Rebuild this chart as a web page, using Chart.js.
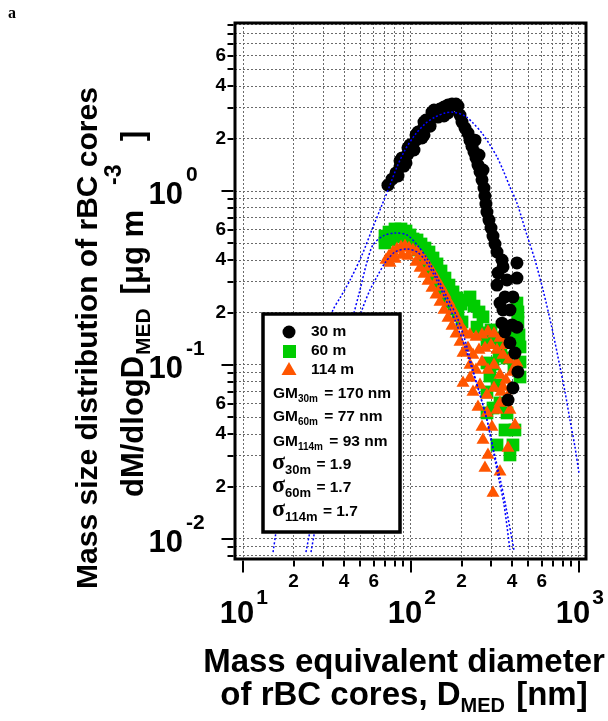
<!DOCTYPE html>
<html>
<head>
<meta charset="utf-8">
<script src="https://cdn.jsdelivr.net/npm/chart.js@4.4.0/dist/chart.umd.min.js"></script>
<style>
  html, body { margin: 0; padding: 0; background: #fff; }
  canvas { display: block; }
</style>
</head>
<body>
<canvas id="myChart" width="608" height="721"></canvas>
<script>
// 30 m (black circles)
const d30x = [72.9, 77.1, 81.4, 86.0, 90.8, 95.9, 101.4, 107.1, 113.2, 119.5, 126.2, 133.4, 140.9, 148.8, 157.2, 166.0, 175.4, 185.3, 190.4,
  157.2, 166.0,
  195.7, 201.2, 209.6, 218.4, 224.5, 230.7, 237.1, 243.7, 250.5, 257.5, 264.7, 272.0, 275.6, 279.4, 283.3, 291.2, 299.4, 307.7, 316.2, 325.1,
  348.2, 353.0, 329.6, 325.1,
  427.2, 427.2, 372.8, 362.8, 404.5, 338.7, 353.0, 388.3, 348.2, 399.1, 427.2, 362.8, 388.3, 415.7, 433.0, 404.5, 377.9,
  88.4, 98.6, 110.1, 122.8, 137.1, 90.8, 104.2, 119.5, 240.4, 254.0, 268.3,
  86.0, 95.9, 107.1, 119.5, 133.4, 83.7, 93.4, 116.3, 129.8, 144.8];
const d30y = [1.08, 1.17, 1.27, 1.37, 1.51, 1.63, 1.79, 1.96, 2.15, 2.33, 2.53, 2.70, 2.84, 2.96, 3.04, 3.12, 3.16, 3.16, 3.08,
  2.70, 2.81,
  2.73, 2.49, 2.30, 2.15, 1.96, 1.81, 1.68, 1.55, 1.41, 1.29, 1.16, 1.04, 0.936, 0.842, 0.757, 0.681, 0.613, 0.551, 0.496, 0.446,
  0.401, 0.366, 0.338, 0.288,
  0.386, 0.316, 0.308, 0.246, 0.246, 0.227, 0.207, 0.207, 0.174, 0.170, 0.165, 0.155, 0.134, 0.117, 0.0912, 0.0738, 0.0629,
  1.55, 1.84, 2.18, 2.56, 2.92, 1.39, 1.72, 2.10, 1.96, 1.61, 1.32,
  1.49, 1.77, 2.10, 2.49, 2.84, 1.22, 1.45, 2.02, 2.36, 2.66];

// 60 m (green squares)
const d60x = [70.0, 70.0, 74.0, 76.0, 80.3, 82.5, 87.2, 89.6, 93.4, 98.6, 102.8,
  108.6, 114.7, 121.1, 128.0, 135.2, 142.8, 150.9, 159.3, 168.3, 177.8, 187.8, 198.4,
  110.1, 116.3, 122.8, 129.8, 137.1, 144.8, 153.0, 161.5, 170.6, 180.3, 190.4, 201.2,
  212.5, 224.5, 237.1, 254.0, 268.3, 247.1, 264.7, 283.3, 299.4, 320.6, 343.3, 372.8, 399.1,
  427.2, 433.0, 433.0, 439.5, 445.6, 445.6, 445.6,
  410.2, 372.8, 334.2, 307.7, 283.3, 295.1, 325.1, 283.3, 338.7, 372.8, 307.7, 283.3,
  325.1, 404.5, 388.3, 362.8, 415.7];
const d60y = [0.551, 0.503, 0.581, 0.523, 0.605, 0.544, 0.605, 0.551, 0.589, 0.559, 0.530,
  0.523, 0.496, 0.470, 0.446, 0.412, 0.381, 0.347, 0.316, 0.288, 0.263, 0.243, 0.224,
  0.458, 0.429, 0.396, 0.366, 0.333, 0.304, 0.277, 0.253, 0.230, 0.210, 0.194, 0.1767,
  0.236, 0.246, 0.218, 0.2017, 0.189, 0.165, 0.153, 0.139, 0.159, 0.143, 0.1286, 0.153, 0.143,
  0.227, 0.2017, 0.1767, 0.149, 0.127, 0.104, 0.0853,
  0.0961, 0.1097, 0.1127, 0.1013, 0.1027, 0.0864, 0.0767, 0.0700, 0.0605, 0.0530, 0.0566, 0.0530,
  0.0347, 0.0347, 0.0304, 0.0423, 0.0423];

// 114 m (orange triangles)
const d114x = [71.0, 74.0, 78.1, 82.5, 87.2, 92.1, 97.3, 102.8, 75.0, 80.3, 88.4, 95.9,
  108.6, 114.7, 121.1, 128.0, 135.2, 142.8, 150.9, 159.3, 168.3, 177.8, 187.8, 198.4,
  107.1, 113.2, 119.5, 126.2, 133.4, 140.9, 148.8, 157.2, 166.0, 175.4, 185.3, 195.7,
  209.6, 224.5, 243.7, 264.7, 287.2, 312.0, 338.7, 362.8,
  204.0, 218.4, 233.9, 254.0, 275.6, 299.4, 325.1, 353.0, 383.1,
  224.5, 243.7, 264.7, 287.2, 312.0, 338.7, 367.4, 399.1, 427.2,
  204.0, 233.9, 257.5, 283.3, 312.0, 343.3, 377.9,
  250.5, 283.3, 303.5, 338.7, 353.0, 415.7, 264.7, 268.3, 287.2, 275.6, 338.7, 307.7, 377.9,
  224.5, 325.1, 388.3];
const d114y = [0.401, 0.423, 0.446, 0.464, 0.477, 0.483, 0.470, 0.458, 0.386, 0.407, 0.429, 0.423,
  0.446, 0.423, 0.396, 0.366, 0.338, 0.308, 0.281, 0.256, 0.230, 0.207, 0.186, 0.1675,
  0.391, 0.361, 0.333, 0.304, 0.277, 0.253, 0.230, 0.207, 0.186, 0.1675, 0.151, 0.1356,
  0.153, 0.149, 0.1449, 0.149, 0.155, 0.151, 0.143, 0.130,
  0.117, 0.1253, 0.114, 0.122, 0.1253, 0.130, 0.122, 0.114, 0.107,
  0.100, 0.0936, 0.104, 0.0936, 0.100, 0.0876, 0.0820, 0.0912, 0.1027,
  0.0788, 0.0700, 0.0767, 0.0672, 0.0738, 0.0700, 0.0664,
  0.0574, 0.0530, 0.0440, 0.0605, 0.0748, 0.0452, 0.0440, 0.0371, 0.0304, 0.0256, 0.0243, 0.0184, 0.0333,
  0.0842, 0.0551, 0.0551];

// log-normal fits (blue dotted)
const fit30x = [15.1, 16.8, 19.0, 22.8, 27.9, 34.3, 37.8, 43.4, 51.1, 59.4, 67.2, 75.0, 82.5, 92.1, 105.6, 121.1, 139.0, 159.3, 177.8,
  209.6, 233.9, 264.7, 295.1, 325.1, 353.0, 388.3, 427.2, 489.8, 547.0, 610.9, 690.5, 771.0, 825.8, 883.5, 946.5, 1000];
const fit30y = [0.00841, 0.01675, 0.0304, 0.0629, 0.122, 0.207, 0.243, 0.308, 0.429, 0.621, 0.831, 1.083, 1.374, 1.72, 2.10, 2.43, 2.66, 2.81, 2.84,
  2.70, 2.46, 2.15, 1.84, 1.57, 1.32, 1.054, 0.853, 0.559, 0.401, 0.270, 0.163, 0.0974, 0.070, 0.0483, 0.0338, 0.0239];
const fit60x = [23.7, 27.9, 33.0, 38.8, 44.6, 49.7, 54.7, 59.4, 68.1, 80.3, 94.6, 110.1, 126.2, 142.8, 159.3, 187.8, 209.6, 233.9, 257.5, 283.3, 307.7, 329.6, 357.9, 388.3];
const fit60y = [0.00841, 0.0191, 0.0483, 0.107, 0.181, 0.270, 0.391, 0.490, 0.551, 0.574, 0.559, 0.483, 0.401, 0.321, 0.259, 0.189, 0.139, 0.0936, 0.0672, 0.0483, 0.0325, 0.0233, 0.0157, 0.00865];
const fit114x = [25.4, 29.5, 34.3, 40.5, 46.4, 51.1, 57.0, 63.6, 70.0, 80.3, 94.6, 108.6, 121.1, 139.0, 159.3, 182.8, 209.6, 233.9, 261.0, 287.2, 312.0, 338.7, 367.4, 410.2];
const fit114y = [0.00841, 0.0191, 0.0423, 0.0936, 0.149, 0.207, 0.270, 0.329, 0.386, 0.446, 0.464, 0.446, 0.401, 0.321, 0.243, 0.181, 0.127, 0.0912, 0.0646, 0.0458, 0.0316, 0.0224, 0.0153, 0.00865];

// axes
const xGridValues = [10, 20, 30, 40, 50, 60, 70, 80, 90, 100, 200, 300, 400, 500, 600, 700, 800, 900, 1000];
const yGridValues = [0.008, 0.009, 0.01, 0.02, 0.03, 0.04, 0.05, 0.06, 0.07, 0.08, 0.09,
  0.1, 0.2, 0.3, 0.4, 0.5, 0.6, 0.7, 0.8, 0.9, 1, 2, 3, 4, 5, 6, 7, 8, 9];
const xMinorLabelValues = [20, 40, 60, 200, 400, 600];
const yMinorLabelValues = [0.02, 0.04, 0.06, 0.2, 0.4, 0.6, 2, 4, 6];
const minorLabels = ['2', '4', '6', '2', '4', '6', '2', '4', '6'];
const xDecades = [10, 100, 1000];
const xDecadeExp = ['1', '2', '3'];
const yDecades = [0.01, 0.1, 1];
const yDecadeExp = ['-2', '-1', '0'];

const legendLabels = ['30 m', '60 m', '114 m'];
const gmRows = [['GM', '30m', ' = 170 nm'], ['GM', '60m', ' = 77 nm'], ['GM', '114m', ' = 93 nm']];
const sigmaRows = [['\u03c3', '30m', ' = 1.9'], ['\u03c3', '60m', ' = 1.7'], ['\u03c3', '114m', ' = 1.7']];

const SANS = "'Liberation Sans', Arial, Helvetica, sans-serif";
const SERIF = "'Liberation Serif', 'Times New Roman', serif";
const GREEN = '#00cc00';
const ORANGE = '#ff5500';

function pairs(xs, ys) {
  return xs.map((v, i) => ({ x: v, y: ys[i] }));
}

// draw text pieces one after another (sub/superscripts)
function drawRuns(ctx, x, y, parts) {
  let cx = x;
  parts.forEach(p => {
    if (p.at !== undefined) cx = x + p.at;
    ctx.font = 'bold ' + p.size + 'px ' + (p.family || SANS);
    ctx.fillText(p.text, cx, y + (p.dy || 0));
    cx += ctx.measureText(p.text).width + (p.gap || 0);
  });
  return cx;
}
function runsWidth(ctx, parts) {
  let w = 0;
  parts.forEach(p => {
    ctx.font = 'bold ' + p.size + 'px ' + (p.family || SANS);
    w += ctx.measureText(p.text).width + (p.gap || 0);
  });
  return w;
}

const decorations = {
  id: 'decorations',
  beforeDraw(chart) {
    const ctx = chart.ctx;
    ctx.save();
    ctx.fillStyle = '#fff';
    ctx.fillRect(0, 0, chart.width, chart.height);
    ctx.restore();
  },
  afterDraw(chart) {
    const { ctx, chartArea: area } = chart;
    const xs = chart.scales.x;
    const ys = chart.scales.y;
    ctx.save();
    ctx.fillStyle = '#000';
    ctx.strokeStyle = '#000';

    // frame
    ctx.lineWidth = 3;
    ctx.strokeRect(area.left, area.top, area.right - area.left, area.bottom - area.top);

    // tick marks outside the frame
    ctx.lineWidth = 2;
    ctx.beginPath();
    xGridValues.forEach(v => {
      const px = Math.round(xs.getPixelForValue(v));
      const len = xDecades.includes(v) ? 12 : 6;
      ctx.moveTo(px, area.bottom + 1.5);
      ctx.lineTo(px, area.bottom + 1.5 + len);
    });
    yGridValues.forEach(v => {
      const py = Math.round(ys.getPixelForValue(v));
      const len = yDecades.includes(v) ? 12 : 6;
      ctx.moveTo(area.left - 1.5, py);
      ctx.lineTo(area.left - 1.5 - len, py);
    });
    ctx.stroke();

    // minor tick labels
    ctx.font = 'bold 19px ' + SANS;
    ctx.textBaseline = 'middle';
    ctx.textAlign = 'center';
    xMinorLabelValues.forEach((v, i) => ctx.fillText(minorLabels[i], xs.getPixelForValue(v), 582));
    ctx.textAlign = 'right';
    yMinorLabelValues.forEach((v, i) => ctx.fillText(minorLabels[i], 226, ys.getPixelForValue(v)));

    // decade labels with exponents
    ctx.textBaseline = 'alphabetic';
    ctx.textAlign = 'left';
    xDecades.forEach((v, i) => {
      const px = xs.getPixelForValue(v);
      ctx.font = 'bold 31px ' + SANS;
      const w = ctx.measureText('10').width;
      const left = px - 6 - w / 2;
      ctx.fillText('10', left, 623);
      ctx.font = 'bold 21px ' + SANS;
      ctx.fillText(xDecadeExp[i], left + w + 2, 604);
    });
    yDecades.forEach((v, i) => {
      const py = ys.getPixelForValue(v);
      ctx.font = 'bold 31px ' + SANS;
      const w = ctx.measureText('10').width;
      ctx.fillText('10', 183 - w, py + 13);
      ctx.font = 'bold 21px ' + SANS;
      ctx.fillText(yDecadeExp[i], 186, py - 10);
    });

    // y axis title
    ctx.save();
    ctx.translate(97, 338);
    ctx.rotate(-Math.PI / 2);
    ctx.textAlign = 'center';
    ctx.font = 'bold 30px ' + SANS;
    ctx.fillText('Mass size distribution of rBC cores', 0, 0);
    ctx.restore();

    ctx.save();
    ctx.translate(143, 497);
    ctx.rotate(-Math.PI / 2);
    ctx.textAlign = 'left';
    drawRuns(ctx, 0, 0, [
      { text: 'dM/dlogD', size: 31 },
      { text: 'MED', size: 21, dy: 7, at: 142 },
      { text: ' [\u03bcg m', size: 31, at: 194 },
      { text: '-3', size: 23, dy: -22, at: 312 },
      { text: ']', size: 31, at: 356 }
    ]);
    ctx.restore();

    // x axis title
    ctx.textAlign = 'center';
    ctx.font = 'bold 33px ' + SANS;
    ctx.fillText('Mass equivalent diameter', 404, 672);
    ctx.textAlign = 'left';
    const line2 = [
      { text: 'of rBC cores, D', size: 33 },
      { text: 'MED', size: 20, dy: 7, gap: 2 },
      { text: ' [nm]', size: 33 }
    ];
    drawRuns(ctx, 404 - runsWidth(ctx, line2) / 2, 705, line2);

    // panel letter
    ctx.font = 'bold 16px ' + SERIF;
    ctx.fillText('a', 8, 18);

    // legend box
    ctx.fillStyle = '#fff';
    ctx.fillRect(263, 314, 137, 218);
    ctx.lineWidth = 3.5;
    ctx.strokeRect(263, 314, 137, 218);

    ctx.fillStyle = '#000';
    ctx.beginPath();
    ctx.arc(289, 332, 6.5, 0, Math.PI * 2);
    ctx.fill();
    ctx.fillStyle = GREEN;
    ctx.fillRect(283, 345, 13, 13);
    ctx.fillStyle = ORANGE;
    ctx.beginPath();
    ctx.moveTo(289, 362);
    ctx.lineTo(296.5, 375);
    ctx.lineTo(281.5, 375);
    ctx.closePath();
    ctx.fill();

    ctx.fillStyle = '#000';
    ctx.textBaseline = 'middle';
    ctx.font = 'bold 15.5px ' + SANS;
    legendLabels.forEach((t, i) => ctx.fillText(t, 311, [332, 351, 370][i]));

    ctx.textBaseline = 'alphabetic';
    gmRows.forEach((r, i) => {
      const base = [398, 421, 446][i];
      drawRuns(ctx, 273, base, [
        { text: r[0], size: 15.5 },
        { text: r[1], size: 10, dy: 4, gap: 2 },
        { text: r[2], size: 15.5 }
      ]);
    });
    sigmaRows.forEach((r, i) => {
      const base = [469, 492, 516][i];
      drawRuns(ctx, 272, base, [
        { text: r[0], size: 24, family: SERIF },
        { text: r[1], size: 13, dy: 5, gap: 1 },
        { text: r[2], size: 15.5 }
      ]);
    });

    ctx.restore();
  }
};

const fitStyle = {
  showLine: true,
  pointRadius: 0,
  borderColor: '#0000ff',
  borderWidth: 1.5,
  borderDash: [2, 2],
  tension: 0.3,
  fill: false,
  order: 0
};

const ctx = document.getElementById('myChart');

new Chart(ctx, {
  type: 'scatter',
  data: {
    datasets: [
      Object.assign({ label: 'fit 30 m', data: pairs(fit30x, fit30y) }, fitStyle),
      Object.assign({ label: 'fit 60 m', data: pairs(fit60x, fit60y) }, fitStyle),
      Object.assign({ label: 'fit 114 m', data: pairs(fit114x, fit114y) }, fitStyle),
      {
        label: '30 m',
        data: pairs(d30x, d30y),
        pointStyle: 'circle',
        pointRadius: 6.5,
        backgroundColor: '#000',
        borderWidth: 0,
        order: 1
      },
      {
        label: '114 m',
        data: pairs(d114x, d114y),
        pointStyle: 'triangle',
        pointRadius: 7.5,
        backgroundColor: ORANGE,
        borderWidth: 0,
        order: 2
      },
      {
        label: '60 m',
        data: pairs(d60x, d60y),
        pointStyle: 'rect',
        pointRadius: 9,
        backgroundColor: GREEN,
        borderWidth: 0,
        order: 3
      }
    ]
  },
  options: {
    responsive: false,
    animation: false,
    events: [],
    layout: { padding: { top: 23, right: 22, bottom: 0, left: 0 } },
    plugins: {
      legend: { display: false },
      tooltip: { enabled: false }
    },
    scales: {
      x: {
        type: 'logarithmic',
        min: 8.96,
        max: 1101,
        afterBuildTicks: s => { s.ticks = xGridValues.map(v => ({ value: v })); },
        afterFit: s => { s.height = 162; },
        ticks: { display: false },
        grid: { color: '#6a6a6a', lineWidth: 1, drawTicks: false },
        border: { display: false, dash: [2, 2] }
      },
      y: {
        type: 'logarithmic',
        min: 0.00767,
        max: 9.24,
        afterBuildTicks: s => { s.ticks = yGridValues.map(v => ({ value: v })); },
        afterFit: s => { s.width = 235; },
        ticks: { display: false },
        grid: { color: '#6a6a6a', lineWidth: 1, drawTicks: false },
        border: { display: false, dash: [2, 2] }
      }
    }
  },
  plugins: [decorations]
});
</script>
</body>
</html>
